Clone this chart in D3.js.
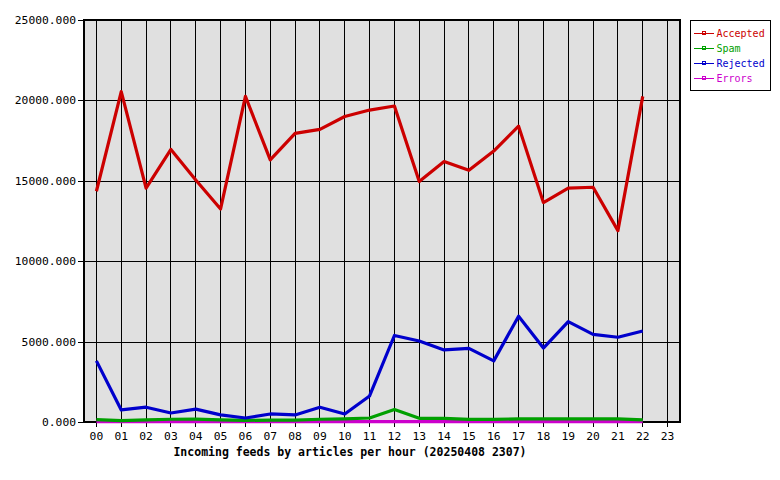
<!DOCTYPE html>
<html><head><meta charset="utf-8">
<script src="https://cdn.jsdelivr.net/npm/d3@7"></script>
<style>body{margin:0;background:#fff;}svg{display:block;}</style>
</head><body>
<svg id="c" width="780" height="480"></svg>
<script>
const hours = ["00","01","02","03","04","05","06","07","08","09","10","11","12","13","14","15","16","17","18","19","20","21","22","23"];
const accepted = [14350,20550,14550,16950,15050,13250,20250,16300,17950,18200,19000,19400,19650,14950,16200,15650,16850,18400,13650,14550,14600,11900,20250];
const spam = [150,80,130,170,180,130,100,120,120,170,200,250,780,230,220,160,160,200,200,200,200,200,130];
const rejected = [3800,750,920,560,800,440,250,500,440,920,500,1620,5380,5040,4480,4580,3800,6580,4600,6240,5450,5270,5660];
const errors = [20,20,20,20,20,20,20,20,20,20,20,20,20,20,20,20,20,20,20,20,20,20,20];
const yTicks = [0,5000,10000,15000,20000,25000];
const seriesNames = ["Accepted","Spam","Rejected","Errors"];
const seriesColors = ["#cc0000","#00a000","#0000cc","#cc00cc"];
const seriesData = [accepted, spam, rejected, errors];
const title = "Incoming feeds by articles per hour (20250408 2307)";

const svg = d3.select("#c");
const L=84, R=680, T=20, B=422;
const font = "'DejaVu Sans Mono', 'Liberation Mono', monospace";
const x = d3.scaleBand().domain(hours).range([L,R]).paddingInner(0).paddingOuter(0);
const y = d3.scaleLinear().domain([0,25000]).range([B,T]);
const cx = h => x(h)+x.bandwidth()/2;

svg.append("rect").attr("x",L).attr("y",T).attr("width",R-L).attr("height",B-T).attr("fill","#e0e0e0");

// grid
svg.append("g").selectAll("line").data(hours).join("line")
  .attr("x1",d=>Math.floor(cx(d))+0.5).attr("x2",d=>Math.floor(cx(d))+0.5)
  .attr("y1",T).attr("y2",B+5).attr("stroke","#000").attr("stroke-width",1);
svg.append("g").selectAll("line").data(yTicks).join("line")
  .attr("x1",L-6).attr("x2",R).attr("y1",d=>Math.round(y(d))+0.5).attr("y2",d=>Math.round(y(d))+0.5)
  .attr("stroke","#000").attr("stroke-width",1);

// border
svg.append("rect").attr("x",L).attr("y",T).attr("width",R-L).attr("height",B-T)
  .attr("fill","none").attr("stroke","#000").attr("stroke-width",2);

// y labels
svg.append("g").selectAll("text").data(yTicks).join("text")
  .attr("x",L-8).attr("y",d=>y(d)+4).attr("text-anchor","end")
  .attr("font-family",font).attr("font-size",11.3).text(d=>d3.format(".3f")(d));
// x labels
svg.append("g").selectAll("text").data(hours).join("text")
  .attr("x",d=>cx(d)).attr("y",B+18).attr("text-anchor","middle")
  .attr("font-family",font).attr("font-size",11.3).text(d=>d);
// title
svg.append("text").attr("x",350).attr("y",456).attr("text-anchor","middle")
  .attr("font-family",font).attr("font-size",11.5).attr("font-weight","bold").text(title);

// lines (draw so accepted on top)
const line = d3.line().x((d,i)=>cx(hours[i])).y(d=>y(d));
[3,1,2,0].forEach(k=>{
  svg.append("path").datum(seriesData[k]).attr("d",line)
    .attr("fill","none").attr("stroke",seriesColors[k]).attr("stroke-width",3.2)
    .attr("stroke-linejoin","round");
});

// legend
const lg = svg.append("g");
lg.append("rect").attr("x",690.5).attr("y",20.5).attr("width",80).attr("height",70)
  .attr("fill","#fff").attr("stroke","#000");
seriesNames.forEach((n,i)=>{
  const yy = 33+i*15;
  lg.append("line").attr("x1",694).attr("x2",714).attr("y1",yy+0.5).attr("y2",yy+0.5)
    .attr("stroke",seriesColors[i]).attr("stroke-width",1);
  lg.append("rect").attr("x",702.5).attr("y",yy-1.5).attr("width",3).attr("height",3)
    .attr("fill","none").attr("stroke",seriesColors[i]).attr("stroke-width",1);
  lg.append("text").attr("x",716.5).attr("y",yy+4).attr("font-family",font).attr("font-size",10)
    .attr("fill",seriesColors[i]).text(n);
});
</script>
</body></html>
